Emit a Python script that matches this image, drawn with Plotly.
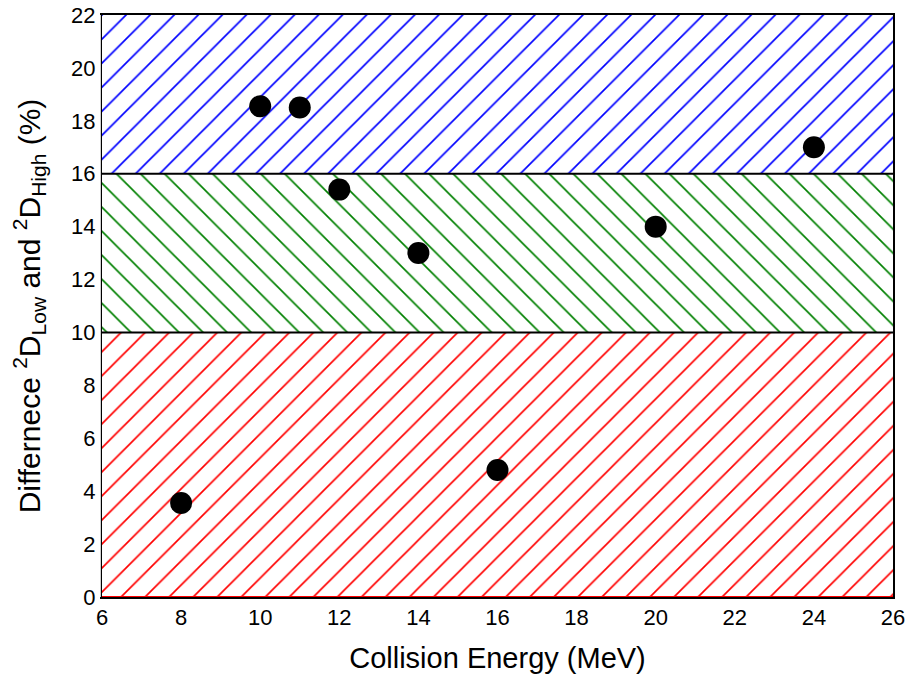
import plotly.graph_objects as go

energy = [8, 10, 11, 12, 14, 16, 20, 24]
difference = [3.55, 18.55, 18.5, 15.4, 13.0, 4.8, 14.0, 17.0]

band_lows = [0, 10, 16]
band_highs = [10, 16, 22]
band_colors = ["#ff0000", "#008000", "#0000ff"]
band_shapes = ["/", "\\", "/"]
x_range = [6, 26]
boundaries = [10, 16]
x_ticks = list(range(6, 27, 2))
y_ticks = list(range(0, 23, 2))

fig = go.Figure()
for lo, hi, col, shp in zip(band_lows, band_highs, band_colors, band_shapes):
    fig.add_trace(go.Scatter(
        x=[x_range[0], x_range[1], x_range[1], x_range[0], x_range[0]],
        y=[lo, lo, hi, hi, lo],
        mode="lines", fill="toself", line=dict(width=0, color=col),
        fillcolor="rgba(0,0,0,0)",
        fillpattern=dict(shape=shp, fgcolor=col, fgopacity=1, bgcolor="white",
                         size=17, solidity=0.1, fillmode="replace"),
        hoverinfo="skip", showlegend=False,
    ))

fig.add_trace(go.Scatter(x=x_range, y=[0, 0], mode="lines",
                         line=dict(color="#ff0000", width=2), showlegend=False, hoverinfo="skip"))
for b in boundaries:
    fig.add_trace(go.Scatter(x=x_range, y=[b, b], mode="lines",
                             line=dict(color="black", width=2), showlegend=False, hoverinfo="skip"))

fig.add_trace(go.Scatter(x=energy, y=difference, mode="markers",
                         marker=dict(color="black", size=22), showlegend=False))

# thin white mask just outside the left axis line to hide pattern bleed
fig.add_shape(type="rect", xref="paper", yref="paper", x0=-0.006, x1=-0.0015, y0=0, y1=1,
              fillcolor="white", line=dict(width=0), layer="above")

font_family = "Liberation Sans, Arial, sans-serif"
fig.update_layout(
    width=906, height=676,
    margin=dict(l=102, r=13, t=15, b=79),
    paper_bgcolor="white", plot_bgcolor="white",
    font=dict(family=font_family, color="black"),
    xaxis=dict(range=x_range, tickvals=x_ticks, showgrid=False, zeroline=False,
               showline=True, linecolor="black", linewidth=2, mirror=True, ticks="",
               automargin=False, tickfont=dict(size=22),
               title=dict(text="Collision Energy (MeV)", font=dict(size=29), standoff=18)),
    yaxis=dict(range=[0, 22], tickvals=y_ticks, showgrid=False, zeroline=False,
               showline=True, linecolor="black", linewidth=2, mirror=True, ticks="",
               automargin=False, tickfont=dict(size=22),
               title=dict(text="Differnece <sup>2</sup>D<sub>Low</sub> and <sup>2</sup>D<sub>High</sub> (%)",
                          font=dict(size=30), standoff=22)),
)

fig.write_html("out.html", config={"displayModeBar": False},
               post_script="document.body.style.margin='0';")
